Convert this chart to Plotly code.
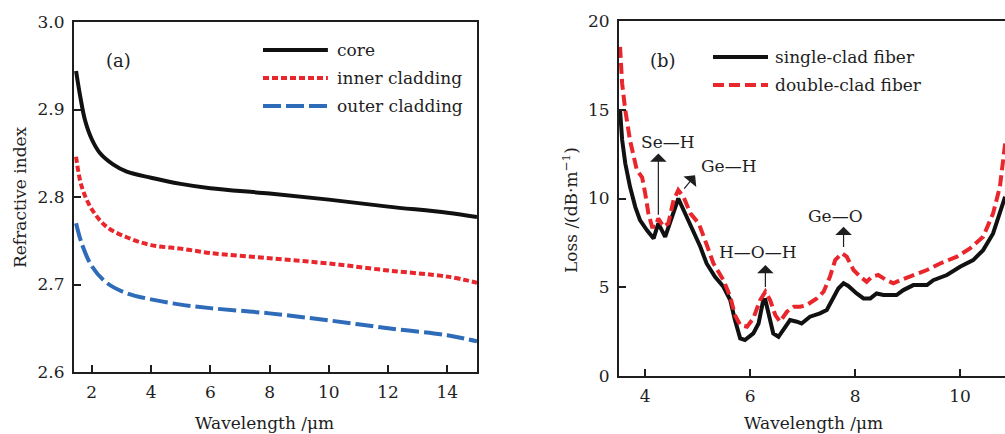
import plotly.graph_objects as go

# ---- Panel (a): refractive index ----
wl_a = [1.47, 1.61, 1.77, 2.0, 2.28, 2.73, 3.18, 4.0, 5.0, 6.0, 8.0, 10.0, 12.0, 14.0, 15.0]
core = [2.944, 2.915, 2.888, 2.866, 2.850, 2.837, 2.829, 2.822, 2.815, 2.810, 2.804, 2.797, 2.789, 2.782, 2.777]
wl_a2 = [1.47, 1.66, 2.0, 2.5, 3.18, 4.0, 5.0, 6.0, 8.0, 10.0, 12.0, 14.0, 15.0]
inner = [2.846, 2.812, 2.786, 2.766, 2.754, 2.745, 2.741, 2.736, 2.730, 2.724, 2.716, 2.709, 2.702]
outer = [2.770, 2.747, 2.721, 2.702, 2.690, 2.683, 2.677, 2.673, 2.667, 2.659, 2.650, 2.642, 2.635]

# ---- Panel (b): loss ----
wl_single = [3.52, 3.56, 3.62, 3.71, 3.81, 3.90, 4.03, 4.16, 4.25, 4.38, 4.63, 4.76, 4.89, 5.05, 5.17,
             5.33, 5.49, 5.62, 5.71, 5.81, 5.90, 6.06, 6.16, 6.25, 6.29, 6.35, 6.44, 6.54, 6.63, 6.76,
             6.89, 6.98, 7.14, 7.33, 7.46, 7.59, 7.68, 7.78, 7.87, 8.03, 8.16, 8.29, 8.41, 8.54, 8.67,
             8.79, 8.92, 9.11, 9.37, 9.49, 9.75, 10.0, 10.25, 10.44, 10.63, 10.76, 10.86]
loss_single = [14.97, 13.3, 11.97, 10.66, 9.53, 8.78, 8.22, 7.75, 8.6, 7.84, 10.0, 9.16, 8.41, 7.28, 6.34,
               5.59, 5.03, 4.28, 3.15, 2.12, 2.03, 2.40, 2.96, 4.28, 4.28, 3.43, 2.40, 2.21, 2.59, 3.15,
               3.06, 2.96, 3.34, 3.53, 3.72, 4.37, 4.93, 5.22, 5.07, 4.65, 4.37, 4.37, 4.65, 4.56, 4.56,
               4.56, 4.84, 5.12, 5.12, 5.40, 5.69, 6.15, 6.53, 7.09, 8.03, 9.16, 10.1]
wl_double = [3.52, 3.56, 3.62, 3.71, 3.84, 3.94, 4.0, 4.06, 4.13, 4.19, 4.25, 4.35, 4.44, 4.54, 4.63,
             4.73, 4.86, 5.02, 5.14, 5.30, 5.49, 5.62, 5.71, 5.81, 5.94, 6.06, 6.19, 6.29, 6.38, 6.48,
             6.57, 6.70, 6.83, 6.95, 7.08, 7.27, 7.40, 7.52, 7.62, 7.75, 7.84, 7.97, 8.10, 8.22, 8.32,
             8.44, 8.60, 8.73, 8.86, 9.11, 9.37, 9.62, 9.94, 10.19, 10.44, 10.63, 10.76, 10.86]
loss_double = [18.54, 16.47, 14.97, 13.28, 11.6, 11.2, 10.28, 9.16, 8.41, 8.41, 8.87, 8.41, 8.6, 9.9, 10.47,
               10.09, 9.16, 8.6, 7.65, 6.34, 5.40, 4.47, 3.43, 2.87, 2.78, 3.25, 4.28, 4.75, 4.28, 3.43,
               3.06, 3.62, 3.90, 3.90, 4.0, 4.37, 4.75, 5.59, 6.53, 6.91, 6.72, 5.97, 5.59, 5.31, 5.59,
               5.69, 5.40, 5.22, 5.40, 5.69, 5.97, 6.34, 6.72, 7.19, 7.84, 9.16, 10.66, 13.1]

ticks_a_x = [2, 4, 6, 8, 10, 12, 14]
ticks_a_y = [2.6, 2.7, 2.8, 2.9, 3.0]
ticks_b_x = [4, 6, 8, 10]
ticks_b_y = [0, 5, 10, 15, 20]

FONT = "DejaVu Serif"
INK = "#1e1e1e"
RED = "#e8262b"
BLUE = "#2e6bb8"
W, H = 1005, 434

fig = go.Figure()
fig.add_trace(go.Scatter(x=wl_a, y=core, mode="lines", line=dict(color="#111111", width=4),
                         line_shape="spline", name="core", showlegend=False, xaxis="x", yaxis="y"))
fig.add_trace(go.Scatter(x=wl_a2, y=inner, mode="lines", line=dict(color=RED, width=4, dash="6px,3px"),
                         line_shape="spline", name="inner cladding", showlegend=False, xaxis="x", yaxis="y"))
fig.add_trace(go.Scatter(x=wl_a2, y=outer, mode="lines", line=dict(color=BLUE, width=4, dash="18px,5px"),
                         line_shape="spline", name="outer cladding", showlegend=False, xaxis="x", yaxis="y"))

fig.add_trace(go.Scatter(x=wl_single, y=loss_single, mode="lines", line=dict(color="#111111", width=4),
                         name="single-clad fiber", showlegend=False, xaxis="x2", yaxis="y2"))
fig.add_trace(go.Scatter(x=wl_double, y=loss_double, mode="lines", line=dict(color=RED, width=4, dash="11px,5px"),
                         name="double-clad fiber", showlegend=False, xaxis="x2", yaxis="y2"))

axis_common = dict(showline=True, linecolor=INK, linewidth=2, ticks="inside", ticklen=7,
                   tickwidth=1.5, tickcolor=INK, showgrid=False, zeroline=False, automargin=False,
                   ticklabelstandoff=4, tickfont=dict(family=FONT, size=17, color=INK))

fig.update_layout(
    width=W, height=H,
    margin=dict(l=0, r=0, t=0, b=0),
    paper_bgcolor="white", plot_bgcolor="white",
    font=dict(family=FONT, color=INK, size=17),
    xaxis=dict(domain=[74/W, 477/W], range=[1.4, 15.0], tickvals=ticks_a_x, mirror=True,
               anchor="y", **axis_common),
    yaxis=dict(domain=[62/H, 412/H], range=[2.6, 3.0], tickvals=ticks_a_y, tickformat=".1f",
               mirror=True, anchor="x", **axis_common),
    xaxis2=dict(domain=[619/W, 1.0], range=[3.5, 10.857], tickvals=ticks_b_x, mirror=True,
                anchor="y2", **axis_common),
    yaxis2=dict(domain=[58/H, 413/H], range=[0, 20], tickvals=ticks_b_y, mirror=False,
                anchor="x2", **axis_common),
)

# Axis titles
titles = [("Wavelength /μm", 264.5, 423, 0), ("Wavelength /μm", 813, 423, 0),
          ("Refractive index", 20, 197, -90), ("Loss /(dB·m<sup>−1</sup>)", 570, 210, -90)]
for t, px, py, ang in titles:
    fig.add_annotation(xref="paper", yref="paper", x=px / W, y=1 - py / H, text=t, showarrow=False,
                       textangle=ang, xanchor="center", yanchor="middle",
                       font=dict(family=FONT, size=17, color=INK))

# Legend samples (panel a)
leg_a = [("core", dict(color="#111111", width=4)),
         ("inner cladding", dict(color=RED, width=4, dash="6px,3px")),
         ("outer cladding", dict(color=BLUE, width=4, dash="18px,5px"))]
ya = [0.92, 0.84, 0.76]
for (lbl, ln), yy in zip(leg_a, ya):
    fig.add_shape(type="line", xref="x domain", yref="y domain", x0=0.469, x1=0.630, y0=yy, y1=yy, line=ln)
    fig.add_annotation(xref="x domain", yref="y domain", x=0.648, y=yy, text=lbl, showarrow=False,
                       xanchor="left", yanchor="middle", font=dict(family=FONT, size=17, color=INK))

leg_b = [("single-clad fiber", dict(color="#111111", width=4)),
         ("double-clad fiber", dict(color=RED, width=4, dash="11px,5px"))]
yb = [0.8986, 0.8197]
for (lbl, ln), yy in zip(leg_b, yb):
    fig.add_shape(type="line", xref="x2 domain", yref="y2 domain", x0=0.2435, x1=0.386, y0=yy, y1=yy, line=ln)
    fig.add_annotation(xref="x2 domain", yref="y2 domain", x=0.398, y=yy, text=lbl, showarrow=False,
                       xanchor="left", yanchor="middle", font=dict(family=FONT, size=17, color=INK))

fig.add_annotation(xref="x domain", yref="y domain", x=0.074, y=0.926, text="(a)", showarrow=False,
                   font=dict(family=FONT, size=18, color=INK))
fig.add_annotation(xref="x2 domain", yref="y2 domain", x=0.075, y=0.924, text="(b)", showarrow=False,
                   font=dict(family=FONT, size=18, color=INK))

# Peak labels and arrows (panel b)
labels = [("Se—H", 4.44, 13.19), ("Ge—H", 5.59, 11.84), ("H—O—H", 6.14, 7.0), ("Ge—O", 7.62, 9.01)]
for t, xx, yy in labels:
    fig.add_annotation(xref="x2", yref="y2", x=xx, y=yy, text=t, showarrow=False,
                       font=dict(family=FONT, size=17, color=INK))
arrows = [(4.25, 12.53, 4.25, 9.0), (4.95, 11.31, 4.72, 10.47), (6.29, 6.25, 6.29, 4.93), (7.78, 8.41, 7.78, 7.19)]
for hx, hy, tx, ty in arrows:
    fig.add_annotation(xref="x2", yref="y2", axref="x2", ayref="y2", x=hx, y=hy, ax=tx, ay=ty,
                       text="", showarrow=True, arrowhead=1, arrowsize=2.3, arrowwidth=1.2, arrowcolor=INK)

fig.write_html("out.html", config={"displayModeBar": False},
               post_script="document.body.style.margin='0';document.documentElement.style.overflow='hidden';")
